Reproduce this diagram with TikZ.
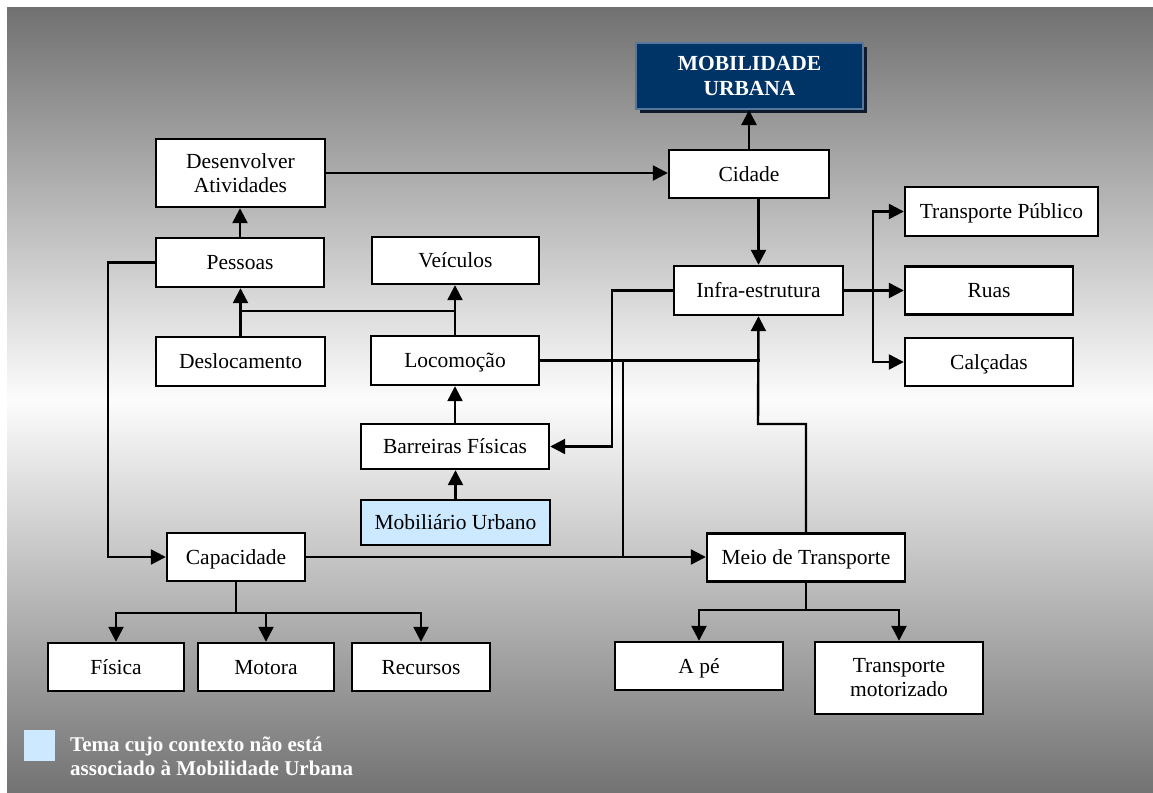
\documentclass[tikz,border=0pt]{standalone}
\usepackage{fontspec}
\setmainfont{Liberation Serif}
\usetikzlibrary{arrows.meta,shadows}
\definecolor{bgtop}{HTML}{717171}
\definecolor{bgmid}{HTML}{FCFCFC}
\definecolor{bgbot}{HTML}{737373}
\definecolor{navy}{HTML}{003366}
\definecolor{navyedge}{HTML}{55779E}
\definecolor{navyshadow}{HTML}{0E1B2C}
\definecolor{lightblue}{HTML}{CCE9FF}
\begin{document}
\begin{tikzpicture}[x=1pt,y=-1pt,
  box/.style={draw=black, line width=2.4pt, fill=white, inner sep=2pt, align=center,
    font=\fontsize{21.5}{24}\selectfont},
  one/.style={box, text height=14.5pt, text depth=0pt},
  conn/.style={line width=2.4pt, draw=black, line cap=rect},
  arr/.style={conn, -{Triangle[length=15pt,width=15pt]}},
]
\useasboundingbox (0,0) rectangle (1153,792);
\fill[white] (0,0) rectangle (1153,792);
\shade[top color=bgtop, bottom color=bgbot, middle color=bgmid] (7,8) rectangle (1153,792);

% nodes
\node[draw=navyedge, fill=navy, line width=2pt, text=white, align=center,
  font=\bfseries\fontsize{21.5}{25}\selectfont, minimum width=227pt, minimum height=66pt,
  drop shadow={shadow xshift=4pt, shadow yshift=-4pt, fill=navyshadow, opacity=1}]
  (mob) at (749.5,76) {MOBILIDADE\\URBANA};
\node[one, minimum width=160pt, minimum height=48pt] (cidade) at (749,174) {Cidade};
\node[box, minimum width=169pt, minimum height=68pt] (desenv) at (240.5,173) {Desenvolver\\Atividades};
\node[one, minimum width=168pt, minimum height=49pt] (pessoas) at (240,262.5) {Pessoas};
\node[one, minimum width=167pt, minimum height=47pt] (veiculos) at (455.5,260.5) {Veículos};
\node[one, minimum width=169pt, minimum height=49pt] (desloc) at (240.5,361.5) {Deslocamento};
\node[one, minimum width=168pt, minimum height=49pt] (locom) at (455,360.5) {Locomoção};
\node[one, minimum width=188pt, minimum height=45pt] (barreiras) at (455,446.5) {Barreiras Físicas};
\node[one, fill=lightblue, minimum width=189pt, minimum height=45pt] (mobil) at (455.5,522.5) {Mobiliário Urbano};
\node[one, minimum width=138pt, minimum height=48pt] (capac) at (236,557) {Capacidade};
\node[one, minimum width=136pt, minimum height=48pt] (fisica) at (116,667) {Física};
\node[one, minimum width=136pt, minimum height=48pt] (motora) at (266,667) {Motora};
\node[one, minimum width=138pt, minimum height=48pt] (recursos) at (421,667) {Recursos};
\node[one, minimum width=169pt, minimum height=49pt] (infra) at (758.5,290.5) {Infra-estrutura};
\node[one, minimum width=193pt, minimum height=49pt] (tp) at (1001.5,211.5) {Transporte Público};
\node[one, minimum width=168pt, minimum height=48pt] (ruas) at (989,290.5) {Ruas};
\node[one, minimum width=168pt, minimum height=48pt] (calcadas) at (989,362) {Calçadas};
\node[one, minimum width=198pt, minimum height=48pt] (meio) at (806,557.5) {Meio de Transporte};
\node[one, minimum width=168pt, minimum height=48pt] (ape) at (699,666) {A pé};
\node[box, minimum width=168pt, minimum height=72pt] (tmotor) at (899,678) {Transporte\\motorizado};

% junction coordinates
\coordinate (j1) at (240,311);
\coordinate (kx) at (612,447);
\coordinate (m2) at (758,424);
\coordinate (b1) at (623,361);
\coordinate (lx) at (108,557);
\coordinate (t1) at (236,613);
\coordinate (t2) at (806,610);
\coordinate (r1) at (873,291);

% connectors
\draw[arr] (cidade.north) -- (cidade.north |- mob.south);
\draw[arr] (desenv.east) -- (desenv.east -| cidade.west);
\draw[arr] (pessoas.north) -- (pessoas.north |- desenv.south);
\draw[arr] (desloc.north) -- (desloc.north |- pessoas.south);
\draw[arr] (locom.north) -- (locom.north |- veiculos.south);
\draw[conn] (desloc.north |- j1) -- (locom.north |- j1);
\draw[arr] (mobil.north) -- (mobil.north |- barreiras.south);
\draw[arr] (barreiras.north) -- (barreiras.north |- locom.south);
\draw[arr] (infra.north |- cidade.south) -- (infra.north);
\draw[arr] (infra.west) -| (kx |- barreiras.east) -- (barreiras.east);
\draw[conn] (locom.east) -- (locom.east -| infra.south);
\draw[conn] (locom.east -| b1) -- (b1 |- capac.east);
\draw[arr] (meio.north) |- (m2) -- (infra.south);
\draw[arr] (capac.east) -- (capac.east -| meio.west);
\draw[arr] (pessoas.west) -| (lx |- capac.west) -- (capac.west);
\draw[conn] (capac.south) -- (t1);
\draw[conn] (fisica.north |- t1) -- (recursos.north |- t1);
\draw[arr] (fisica.north |- t1) -- (fisica.north);
\draw[arr] (motora.north |- t1) -- (motora.north);
\draw[arr] (recursos.north |- t1) -- (recursos.north);
\draw[conn] (meio.south) -- (t2);
\draw[conn] (ape.north |- t2) -- (tmotor.north |- t2);
\draw[arr] (ape.north |- t2) -- (ape.north);
\draw[arr] (tmotor.north |- t2) -- (tmotor.north);
\draw[arr] (infra.east) -- (infra.east -| ruas.west);
\draw[conn] (r1 |- tp.west) -- (r1 |- calcadas.west);
\draw[arr] (r1 |- tp.west) -- (tp.west);
\draw[arr] (r1 |- calcadas.west) -- (calcadas.west);

% legend
\node[fill=lightblue, minimum size=31pt, inner sep=0pt, anchor=north west] (legbox) at (24,730) {};
\node[anchor=west, text=white, align=left, inner sep=0pt,
  font=\bfseries\fontsize{21}{24}\selectfont] (legtext) at (70,756)
  {Tema cujo contexto não está\\associado à Mobilidade Urbana};
\end{tikzpicture}
\end{document}
